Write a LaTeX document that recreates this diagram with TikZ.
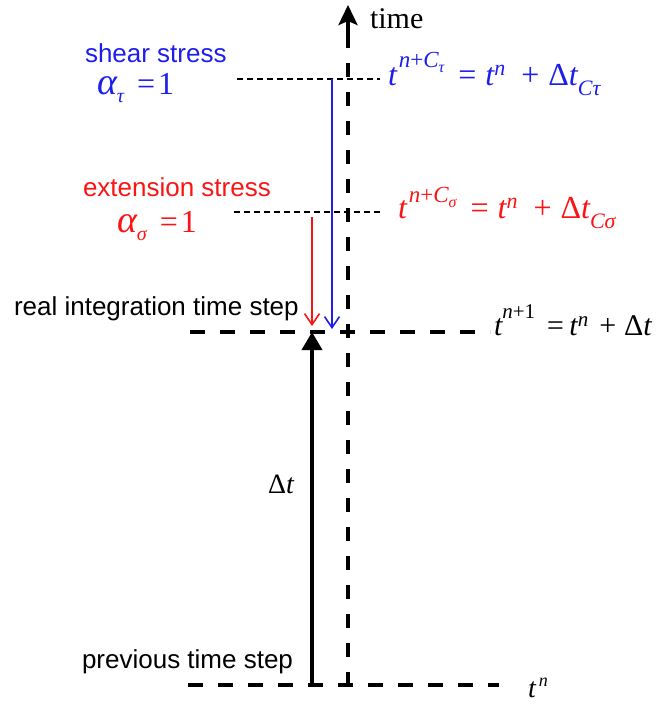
\documentclass[tikz,border=0pt]{standalone}
\usepackage{fontspec}
\setmainfont{Liberation Serif}
\newfontfamily\ars{Liberation Sans}
\usetikzlibrary{arrows.meta}
\definecolor{myblue}{RGB}{30,30,235}
\definecolor{myred}{RGB}{250,20,20}
\newcommand\fs[1]{\fontsize{#1}{#1}\selectfont}
\newcommand\lowbox[1]{\raisebox{0pt}[0.5\height][0pt]{#1}}
\begin{document}
\begin{tikzpicture}[x=1pt,y=-1pt,
  thickdash/.style={line width=4pt, dash pattern=on 15pt off 15pt},
  axisdash/.style={line width=3.6pt, dash pattern=on 14pt off 15pt},
  thindash/.style={line width=1.6pt, dash pattern=on 6pt off 4pt},
  thinarrow/.style={line width=1.6pt, -{Straight Barb[length=11pt,width=15pt,line width=1.6pt]}},
  lbl/.style={inner sep=0pt, outer sep=0pt, anchor=base west},
  sans/.style={lbl, font=\ars\fs{26}},
]
\useasboundingbox (0,0) rectangle (657,704);

% coordinates
\coordinate (axB) at (348,686);
\coordinate (axM) at (348,36);
\coordinate (axT) at (348,5);
\coordinate (hB1) at (188,685);
\coordinate (hB2) at (499,685);
\coordinate (hM1) at (190,332);
\coordinate (hM2) at (490,332);
\coordinate (bl1) at (237,79);
\coordinate (bl2) at (380,79);
\coordinate (rd1) at (234,212);
\coordinate (rd2) at (380,212);
\coordinate (bS) at (332,79);
\coordinate (bE) at (332,329);
\coordinate (rS) at (312,217);
\coordinate (rE) at (312,326);
\coordinate (kS) at (312,685);
\coordinate (kE) at (312,332);

% time axis
\draw[axisdash] (axB) -- (axM);
\draw[line width=3.6pt, -{Stealth[length=20pt,width=19pt,inset=4pt]}] (axM) -- (axT);

% horizontal lines
\draw[thickdash] (hB1) -- (hB2);
\draw[thickdash] (hM1) -- (hM2);
\draw[thindash] (bl1) -- (bl2);
\draw[thindash] (rd1) -- (rd2);

% arrows
\draw[thinarrow, myblue] (bS) -- (bE);
\draw[thinarrow, myred] (rS) -- (rE);
\draw[line width=3.6pt, -{Triangle[length=18pt,width=20pt]}] (kS) -- (kE);

% texts
\node[lbl] (time) at (370,28) {\fs{30}time};

\node[sans, text=myblue] (shear) at (85,62) {shear stress};
\node[lbl, text=myblue] (atau) at (97,94) {\lowbox{\fs{32}\itshape{\fs{38}α}\raisebox{-8pt}{\fs{20}τ}\hspace{13pt}\upshape=\hspace{3pt}1}};

\node[sans, text=myred] (ext) at (83,196) {extension stress};
\node[lbl, text=myred] (asig) at (117,232) {\lowbox{\fs{32}\itshape{\fs{38}α}\raisebox{-8pt}{\fs{20}σ}\hspace{13pt}\upshape=\hspace{3pt}1}};

\node[sans] (real) at (14,315) {real integration time step};
\node[sans] (prev) at (82,668) {previous time step};

\node[lbl, text=myblue] (eqtau) at (388,85) {\fs{32}\itshape t\hspace{2pt}\raisebox{18pt}{\fs{23}n\upshape+\itshape C\raisebox{-5pt}{\fs{16}τ}}\hspace{14pt}\upshape=\hspace{9pt}\itshape t\raisebox{10pt}{\fs{22}n}\hspace{16pt}\upshape+\hspace{9pt}Δ\itshape t\raisebox{-10pt}{\fs{22}Cτ}};

\node[lbl, text=myred] (eqsig) at (398,218) {\fs{32}\itshape t\hspace{2pt}\raisebox{16pt}{\fs{23}n\upshape+\itshape C\raisebox{-5pt}{\fs{16}σ}}\hspace{14pt}\upshape=\hspace{9pt}\itshape t\raisebox{10pt}{\fs{22}n}\hspace{16pt}\upshape+\hspace{9pt}Δ\itshape t\raisebox{-10pt}{\fs{22}Cσ}};

\node[lbl] (eqone) at (494,335) {\fs{30}\itshape t\raisebox{17pt}{\fs{21}n\upshape+1}\hspace{10pt}=\hspace{4pt}\itshape t\raisebox{9pt}{\fs{21}n}\hspace{11pt}\upshape+\hspace{8pt}Δ\itshape t};

\node[lbl] (dt) at (268,493) {\fs{28}Δ\itshape t};
\node[lbl] (tn) at (528,697) {\fs{28}\itshape t\hspace{3pt}\raisebox{11pt}{\fs{18}n}};
\end{tikzpicture}
\end{document}
